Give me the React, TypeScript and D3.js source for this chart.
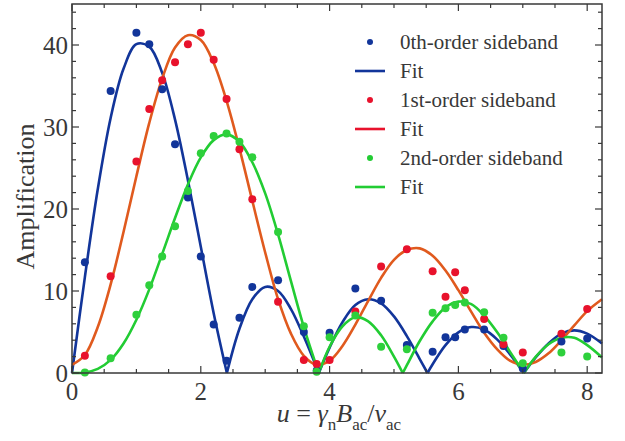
import * as React from 'react';
import * as d3 from 'd3';

// measured sideband amplitudes
const uData = [0.2, 0.6, 1.0, 1.2, 1.4, 1.6, 1.8, 2.0, 2.2, 2.4, 2.6, 2.8, 3.2, 3.6, 3.8, 4.0, 4.4, 4.8, 5.2, 5.6, 5.8, 5.95, 6.1, 6.4, 6.7, 7.0, 7.6, 8.0];
const order0 = [13.5, 34.4, 41.5, 40.1, 34.6, 27.9, 21.4, 14.2, 5.9, 1.5, 6.75, 10.5, 11.3, 5.0, 0.3, 4.9, 10.3, 8.8, 3.4, 2.6, 4.35, 4.35, 5.3, 5.3, 3.3, 0.55, 3.85, 4.2];
const order1 = [2.1, 11.8, 25.8, 32.2, 35.7, 37.9, 40.1, 41.5, 38.2, 33.4, 27.3, 21.2, 8.7, 1.6, 1.1, 1.6, 7.5, 13.0, 15.1, 12.4, 9.3, 12.3, 10.1, 6.6, 3.5, 2.5, 4.8, 7.8];
const order2 = [0.05, 1.8, 7.1, 10.7, 14.2, 17.9, 22.2, 26.8, 28.9, 29.2, 28.2, 26.3, 17.2, 5.7, 0.15, 4.35, 7.0, 3.2, 2.9, 7.35, 7.9, 8.3, 8.6, 7.4, 4.3, 1.2, 2.5, 2.0];

// fit curves, [u, amplitude]
const fit0: [number, number][] = [
  [0, 0], [0.2, 11.7], [0.4, 22.4], [0.6, 31.1], [0.8, 37.1], [1.0, 40.1], [1.2, 39.8], [1.4, 36.6],
  [1.6, 30.9], [1.8, 23.5], [2.0, 15.4], [2.2, 7.3], [2.405, 0], [2.6, 5.4], [2.8, 9.0], [3.0, 10.5],
  [3.2, 10.0], [3.4, 7.8], [3.6, 4.45], [3.832, 0], [4.0, 3.1], [4.2, 6.2], [4.4, 8.3], [4.6, 9.0],
  [4.8, 8.5], [5.0, 6.9], [5.2, 4.5], [5.4, 1.7], [5.52, 0], [5.6, 1.07], [5.8, 3.4], [6.0, 4.96],
  [6.2, 5.6], [6.4, 5.3], [6.6, 4.1], [6.8, 2.3], [7.016, 0], [7.2, 1.9], [7.4, 3.6], [7.6, 4.8],
  [7.8, 5.2], [8.0, 4.8], [8.23, 3.6],
];
const fit1: [number, number][] = [
  [0, 1.0], [0.2, 2.2], [0.4, 5.6], [0.6, 10.8], [0.8, 17.2], [1.0, 24.0], [1.2, 30.5], [1.4, 35.9],
  [1.6, 39.7], [1.8, 41.2], [2.0, 40.6], [2.2, 37.8], [2.4, 33.2], [2.6, 27.4], [2.8, 21.0], [3.0, 14.7],
  [3.2, 9.0], [3.4, 4.8], [3.6, 2.1], [3.8, 1.0], [4.0, 1.5], [4.2, 3.3], [4.4, 5.9], [4.6, 8.8],
  [4.8, 11.6], [5.0, 13.8], [5.2, 15.0], [5.4, 15.2], [5.6, 14.3], [5.8, 12.5], [6.0, 10.1], [6.2, 7.45],
  [6.4, 4.9], [6.6, 2.9], [6.8, 1.5], [7.0, 1.0], [7.2, 1.35], [7.4, 2.4], [7.6, 4.0], [7.8, 5.8],
  [8.0, 7.55], [8.23, 9.0],
];
const fit2: [number, number][] = [
  [0, 0], [0.2, 0.06], [0.4, 0.5], [0.6, 1.6], [0.8, 3.6], [1.0, 6.5], [1.2, 10.2], [1.4, 14.5],
  [1.6, 18.9], [1.8, 23.0], [2.0, 26.3], [2.2, 28.4], [2.4, 29.1], [2.6, 28.2], [2.8, 25.7], [3.0, 21.9],
  [3.2, 16.9], [3.4, 11.2], [3.6, 5.6], [3.832, 0], [4.0, 3.2], [4.2, 5.7], [4.4, 6.8], [4.6, 6.3],
  [4.8, 4.6], [5.0, 2.0], [5.136, 0], [5.2, 0.96], [5.4, 3.9], [5.6, 6.3], [5.8, 8.0], [6.0, 8.7],
  [6.2, 8.4], [6.4, 7.0], [6.6, 5.0], [6.8, 2.6], [7.016, 0], [7.2, 1.96], [7.4, 3.5], [7.6, 4.3],
  [7.8, 4.3], [8.0, 3.4], [8.23, 1.9],
];

const xTicks = [0, 2, 4, 6, 8];
const yTicks = [0, 10, 20, 30, 40];

const legendLabels = ['0th-order sideband', 'Fit', '1st-order sideband', 'Fit', '2nd-order sideband', 'Fit'];

const blue = '#12359a';
const red = '#e8122c';
const orange = '#e05a1e';
const green = '#22cc33';

export default function App() {
  const ref = React.useRef<SVGSVGElement>(null);

  React.useEffect(() => {
    const svg = d3.select(ref.current);
    svg.selectAll('*').remove();

    const left = 72, right = 602, top = 4, bottom = 373;
    const x = d3.scaleLinear().domain([0, 8.23]).range([left, right]);
    const y = d3.scaleLinear().domain([0, 45]).range([bottom, top]);
    const font = 'Liberation Serif';
    const ink = '#383838';

    const g = svg.append('g');

    // curves, split at the cusps (zeros)
    const line = d3.line<[number, number]>()
      .x(d => x(d[0]))
      .y(d => y(d[1]))
      .curve(d3.curveCatmullRom.alpha(0.5));
    const segments = (pts: [number, number][]) => {
      const out: [number, number][][] = [];
      let cur: [number, number][] = [];
      pts.forEach(p => {
        cur.push(p);
        if (p[1] === 0 && cur.length > 1) {
          out.push(cur);
          cur = [p];
        }
      });
      if (cur.length > 1) out.push(cur);
      return out;
    };
    [[fit0, blue], [fit1, orange], [fit2, green]].forEach(([pts, c]) => {
      segments(pts as [number, number][]).forEach(seg => {
        g.append('path')
          .attr('d', line(seg))
          .attr('fill', 'none')
          .attr('stroke', c as string)
          .attr('stroke-width', 2.6);
      });
    });

    // data points
    [[order0, blue], [order1, red], [order2, '#2ed03c']].forEach(([vals, c]) => {
      g.selectAll(null)
        .data(vals as number[])
        .enter()
        .append('circle')
        .attr('cx', (d, i) => x(uData[i]))
        .attr('cy', d => y(d))
        .attr('r', 4)
        .attr('fill', c as string);
    });

    // frame and ticks
    g.append('rect')
      .attr('x', left).attr('y', top)
      .attr('width', right - left).attr('height', bottom - top)
      .attr('fill', 'none').attr('stroke', ink).attr('stroke-width', 1.5);

    const xMinor = d3.range(0, 8.23, 0.5);
    xMinor.forEach(t => {
      const len = t % 2 === 0 ? 7 : 4;
      g.append('line').attr('x1', x(t)).attr('x2', x(t)).attr('y1', bottom).attr('y2', bottom - len)
        .attr('stroke', ink).attr('stroke-width', 1.2);
      g.append('line').attr('x1', x(t)).attr('x2', x(t)).attr('y1', top).attr('y2', top + len)
        .attr('stroke', ink).attr('stroke-width', 1.2);
    });
    const yMinor = d3.range(0, 45, 2);
    yMinor.forEach(t => {
      const len = t % 10 === 0 ? 7 : 4;
      g.append('line').attr('x1', left).attr('x2', left + len).attr('y1', y(t)).attr('y2', y(t))
        .attr('stroke', ink).attr('stroke-width', 1.2);
      g.append('line').attr('x1', right).attr('x2', right - len).attr('y1', y(t)).attr('y2', y(t))
        .attr('stroke', ink).attr('stroke-width', 1.2);
    });

    g.selectAll(null).data(xTicks).enter().append('text')
      .attr('x', d => x(d)).attr('y', 400)
      .attr('text-anchor', 'middle')
      .attr('font-family', font).attr('font-size', 25).attr('fill', ink)
      .text(d => d);
    g.selectAll(null).data(yTicks).enter().append('text')
      .attr('x', 68).attr('y', d => y(d) + 8.5)
      .attr('text-anchor', 'end')
      .attr('font-family', font).attr('font-size', 25).attr('fill', ink)
      .text(d => d);

    // axis titles
    g.append('text')
      .attr('transform', `translate(34,${(top + bottom) / 2 + 8}) rotate(-90)`)
      .attr('text-anchor', 'middle')
      .attr('font-family', font).attr('font-size', 26).attr('fill', ink)
      .text('Amplification');

    const xl = g.append('text')
      .attr('x', 339).attr('y', 422)
      .attr('text-anchor', 'middle')
      .attr('font-family', font).attr('font-size', 26).attr('fill', ink);
    xl.append('tspan').attr('font-style', 'italic').text('u');
    xl.append('tspan').text(' = ');
    xl.append('tspan').attr('font-style', 'italic').text('γ');
    xl.append('tspan').attr('dy', 8).attr('font-size', 17).text('n');
    xl.append('tspan').attr('dy', -8).attr('font-style', 'italic').text('B');
    xl.append('tspan').attr('dy', 8).attr('font-size', 17).text('ac');
    xl.append('tspan').attr('dy', -8).text('/');
    xl.append('tspan').attr('font-style', 'italic').text('v');
    xl.append('tspan').attr('dy', 8).attr('font-size', 17).text('ac');

    // legend
    const legendColors = [blue, blue, red, red, green, green];
    legendLabels.forEach((label, i) => {
      const by = 49 + i * 29;
      const cy = by - 7;
      if (i % 2 === 0) {
        g.append('circle').attr('cx', 370).attr('cy', cy).attr('r', 3).attr('fill', legendColors[i]);
      } else {
        g.append('line').attr('x1', 355).attr('x2', 385).attr('y1', cy).attr('y2', cy)
          .attr('stroke', legendColors[i]).attr('stroke-width', 2.6);
      }
      g.append('text')
        .attr('x', 400).attr('y', by)
        .attr('font-family', font).attr('font-size', 21).attr('fill', ink)
        .text(label);
    });
  }, []);

  return (
    <svg ref={ref} width={625} height={441}
      style={{ position: 'absolute', left: 0, top: 0, background: '#fff' }} />
  );
}
